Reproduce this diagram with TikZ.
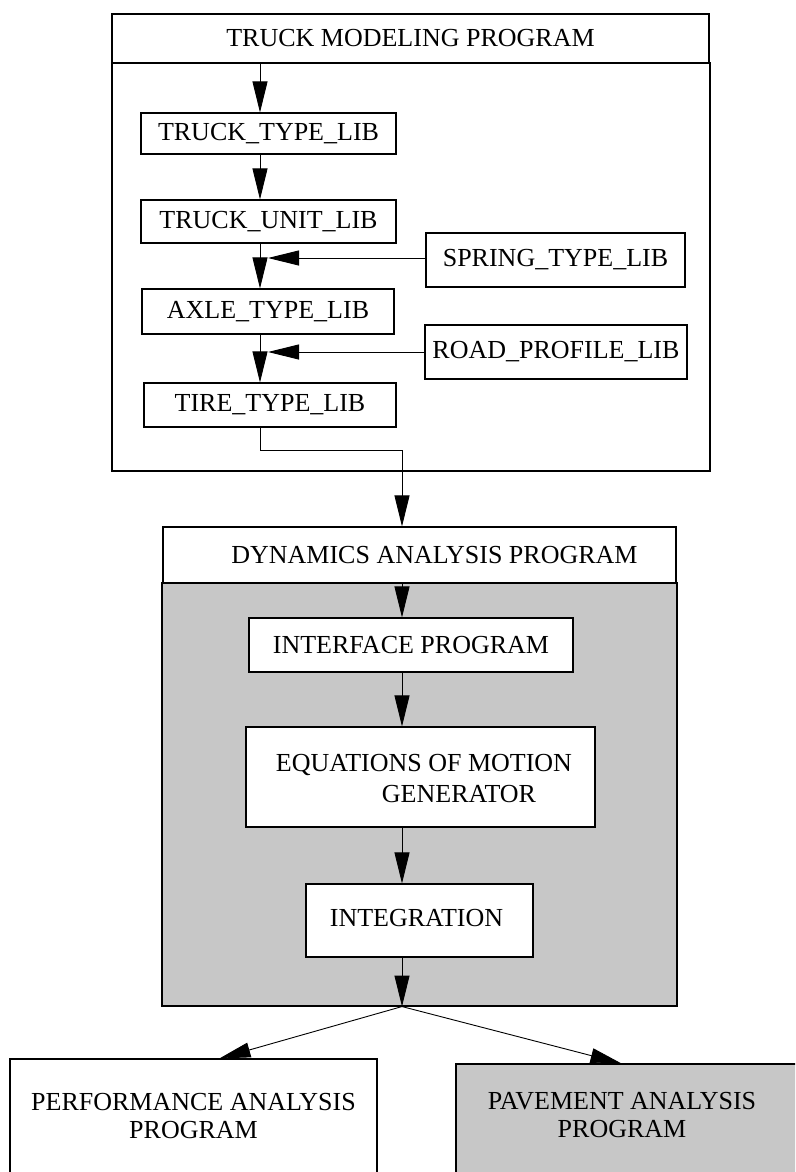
\documentclass[tikz,border=0pt]{standalone}
\usepackage{fontspec}
\setmainfont{Liberation Serif}
\usetikzlibrary{arrows.meta,calc}
\begin{document}
\begin{tikzpicture}[x=1pt,y=-1pt,
  box/.style={draw, line width=1.1pt, rectangle, inner sep=0pt, font=\fontsize{26}{30}\selectfont},
  lbl/.style={inner sep=0pt, font=\fontsize{26}{28}\selectfont, align=center},
  arr/.style={line width=0.9pt, -{Triangle[length=31pt,width=15pt]}},
  shade/.style={fill=black!22}]
\useasboundingbox (0,0) rectangle (795,1172);
\clip (0,0) rectangle (795,1172);

% ---------- Truck modeling program ----------
\node[box, minimum width=598pt, minimum height=408pt] (tmb) at (411,267) {};
\node[box, minimum width=597pt, minimum height=49pt] (tmh) at (410.5,38.5) {TRUCK MODELING PROGRAM};
\node[box, minimum width=255pt, minimum height=41pt] (ttl) at (268.5,133.5) {TRUCK\_TYPE\_LIB};
\node[box, minimum width=255pt, minimum height=43pt] (tul) at (268.5,221.5) {TRUCK\_UNIT\_LIB};
\node[box, minimum width=252pt, minimum height=45pt] (atl) at (268,311.5) {AXLE\_TYPE\_LIB};
\node[box, minimum width=252pt, minimum height=44pt] (tirel) at (270,405) {TIRE\_TYPE\_LIB};
\node[box, minimum width=259pt, minimum height=54pt] (stl) at (555.5,260) {SPRING\_TYPE\_LIB};
\node[box, minimum width=262pt, minimum height=54pt] (rpl) at (556,352) {ROAD\_PROFILE\_LIB};

% ---------- Dynamics analysis program ----------
\node[box, shade, minimum width=515pt, minimum height=423pt] (db) at (419.5,794.5) {};
\node[box, fill=white, minimum width=513pt, minimum height=56pt] (dh) at (419.5,555) {};
\node[lbl] at (434.5,555) {DYNAMICS ANALYSIS PROGRAM};
\node[box, fill=white, minimum width=324pt, minimum height=54pt] (ip) at (411,645) {INTERFACE PROGRAM};
\node[box, fill=white, minimum width=349pt, minimum height=100pt] (eom) at (420.5,777) {};
\node[lbl, anchor=base] at (424,771) {EQUATIONS OF MOTION};
\node[lbl, anchor=base] at (459,802) {GENERATOR};
\node[box, fill=white, minimum width=227pt, minimum height=73pt] (integ) at (419.5,920.5) {};
\node[lbl, anchor=base] at (416.5,926) {INTEGRATION};

% ---------- Output programs ----------
\node[box, minimum width=367pt, minimum height=141pt] (pa) at (193.5,1129.5) {};
\node[lbl] at (193.5,1116) {PERFORMANCE ANALYSIS\\PROGRAM};
\node[box, shade, minimum width=364pt, minimum height=136pt] (pv) at (638,1132) {};
\node[lbl] at (622,1115) {PAVEMENT ANALYSIS\\PROGRAM};

% ---------- connectors ----------
\coordinate (sp1) at (260,0);
\coordinate (j1) at (268,258);
\coordinate (j2) at (268,352);
\coordinate (bend) at (402,450);
\coordinate (sp2) at (402,0);

\draw[arr] (tmh.south -| sp1) -- (ttl.north -| sp1);
\draw[arr] (ttl.south -| sp1) -- (tul.north -| sp1);
\draw[arr] (tul.south -| sp1) -- (atl.north -| sp1);
\draw[arr] (atl.south -| sp1) -- (tirel.north -| sp1);
\draw[arr] (stl.west |- j1) -- (j1);
\draw[arr] (rpl.west) -- (j2);
\draw[arr] (tirel.south -| sp1) |- (bend) -- (dh.north -| bend);

\draw[arr] (dh.south -| sp2) -- (ip.north -| sp2);
\draw[arr] (ip.south -| sp2) -- (eom.north -| sp2);
\draw[arr] (eom.south -| sp2) -- (integ.north -| sp2);
\draw[arr] (integ.south -| sp2) -- (db.south -| sp2);
\draw[arr] (db.south -| sp2) -- ($(pa.north west)+(210,0)$);
\draw[arr] (db.south -| sp2) -- ($(pv.north west)+(166,0)$);
\end{tikzpicture}
\end{document}
